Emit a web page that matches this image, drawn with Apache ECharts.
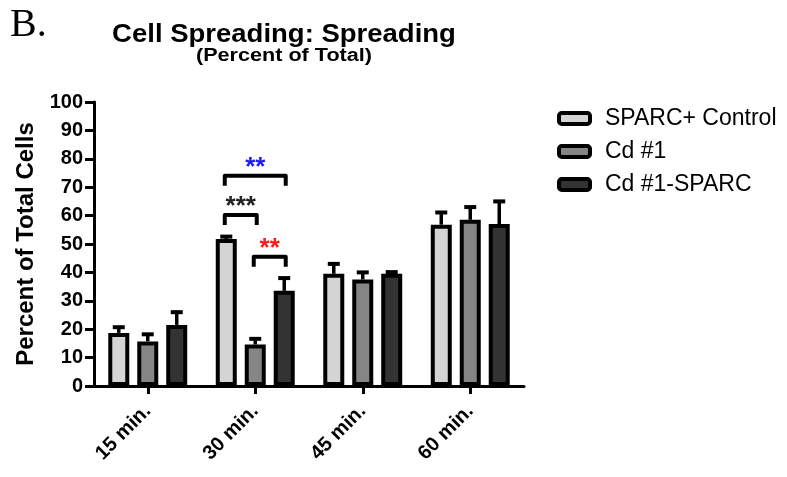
<!DOCTYPE html>
<html><head><meta charset="utf-8">
<script src="https://cdn.jsdelivr.net/npm/echarts@6/dist/echarts.min.js"></script>
<style>html,body{margin:0;padding:0;background:#fff}#c{width:787px;height:477px}</style>
</head><body><div id="c"></div>
<script>
var categories = ['15 min.', '30 min.', '45 min.', '60 min.'];
var seriesNames = ['SPARC+ Control', 'Cd #1', 'Cd #1-SPARC'];
var control = [18.7, 51.8, 39.5, 56.8];
var cd1 = [15.7, 14.6, 37.5, 58.5];
var cd1Sparc = [21.5, 33.5, 39.5, 57];
var controlErr = [2.0, 0.8, 3.5, 4.3];
var cd1Err = [2.5, 2.0, 2.5, 4.5];
var cd1SparcErr = [4.5, 4.5, 0.6, 8.0];
var yTicks = [0, 100, 10];
// significance: [category, fromBar, toBar, bracketValue, label, color]
var brackets = [
  [1, 0, 2, 74.0, '**', '#1a1aff'],
  [1, 0, 1, 60.2, '***', '#222222'],
  [1, 1, 2, 45.5, '**', '#ff1a1a']
];

var colors = ['#d4d4d4', '#858585', '#333333'];
var BAR_W = 21, BAR_GAP = 0.38;
var values = [control, cd1, cd1Sparc];
var errs = [controlErr, cd1Err, cd1SparcErr];
function offset(b) { return (b - 1) * BAR_W * (1 + BAR_GAP); }

var errData = [];
for (var s = 0; s < 3; s++) for (var i = 0; i < categories.length; i++) errData.push([i, s, values[s][i], errs[s][i]]);

var font = 'Liberation Sans, Arial, sans-serif';
var series = seriesNames.map(function (n, s) {
  return {
    name: n, type: 'bar', data: values[s], barWidth: BAR_W, barGap: (BAR_GAP * 100) + '%',
    itemStyle: { color: colors[s], borderColor: '#000', borderWidth: 4 }, z: 3
  };
});
series.push({
  type: 'custom', data: errData, z: 2, silent: true,
  renderItem: function (params, api) {
    var c = api.value(0), b = api.value(1), v = api.value(2), e = api.value(3);
    var p0 = api.coord([c, v]), p1 = api.coord([c, v + e]);
    var x = p0[0] + offset(b);
    return { type: 'group', children: [
      { type: 'line', shape: { x1: x, y1: p0[1], x2: x, y2: p1[1] }, style: { stroke: '#000', lineWidth: 3.5 } },
      { type: 'line', shape: { x1: x - 6, y1: p1[1], x2: x + 6, y2: p1[1] }, style: { stroke: '#000', lineWidth: 4 } }
    ] };
  }
});
series.push({
  type: 'custom', data: brackets, z: 4, silent: true,
  renderItem: function (params, api) {
    var c = api.value(0), b1 = api.value(1), b2 = api.value(2), v = api.value(3);
    var item = brackets[params.dataIndex];
    var p = api.coord([c, v]);
    var x1 = p[0] + offset(b1) - 1.5, x2 = p[0] + offset(b2) + 1.5, y = p[1];
    return { type: 'group', children: [
      { type: 'polyline', shape: { points: [[x1, y + 10], [x1, y], [x2, y], [x2, y + 10]] },
        style: { stroke: '#000', lineWidth: 4, fill: null, lineJoin: 'round' } },
      { type: 'text', style: { x: (x1 + x2) / 2, y: y - 8, text: item[4], fill: item[5],
        font: 'bold 26px ' + font, textAlign: 'center', textVerticalAlign: 'middle' } }
    ] };
  }
});

var chart = echarts.init(document.getElementById('c'), null, { renderer: 'canvas' });
chart.setOption({
  animation: false,
  graphic: [
    { type: 'text', left: 10, top: 5, style: { text: 'B.', font: '40px Liberation Serif, Times New Roman, serif', fill: '#000' } },
    { type: 'text', x: 284, y: 35, scaleX: 1.1, style: { text: 'Cell Spreading: Spreading', font: 'bold 25px ' + font, fill: '#000', textAlign: 'center', textVerticalAlign: 'middle' } },
    { type: 'text', x: 284, y: 56, scaleX: 1.2, style: { text: '(Percent of Total)', font: 'bold 18px ' + font, fill: '#000', textAlign: 'center', textVerticalAlign: 'middle' } }
  ],
  legend: {
    orient: 'vertical', left: 557, top: 107, padding: 0, itemWidth: 31, itemHeight: 11, itemGap: 10,
    data: seriesNames, selectedMode: false,
    itemStyle: { borderColor: '#000', borderWidth: 4 },
    textStyle: { fontFamily: font, fontSize: 23, color: '#000', padding: [0, 0, 0, 10] }
  },
  grid: { left: 94, top: 102, right: 263, bottom: 91, containLabel: false },
  xAxis: {
    type: 'category', data: categories,
    axisLine: { lineStyle: { color: '#000', width: 3 } },
    axisTick: { show: true, alignWithLabel: true, length: 8, lineStyle: { color: '#000', width: 3 } },
    axisLabel: { rotate: 45, margin: 22, fontFamily: font, fontSize: 20, fontWeight: 'bold', color: '#000' }
  },
  yAxis: {
    type: 'value', min: yTicks[0], max: yTicks[1], interval: yTicks[2],
    name: 'Percent of Total Cells', nameLocation: 'middle', nameGap: 53, nameRotate: 90,
    nameTextStyle: { fontFamily: font, fontSize: 24, fontWeight: 'bold', color: '#000' },
    axisLine: { show: true, lineStyle: { color: '#000', width: 3 } },
    axisTick: { show: true, length: 9, lineStyle: { color: '#000', width: 3 } },
    axisLabel: { margin: 11, fontFamily: font, fontSize: 20, fontWeight: 'bold', color: '#000' },
    splitLine: { show: false }
  },
  series: series
});
</script></body></html>
